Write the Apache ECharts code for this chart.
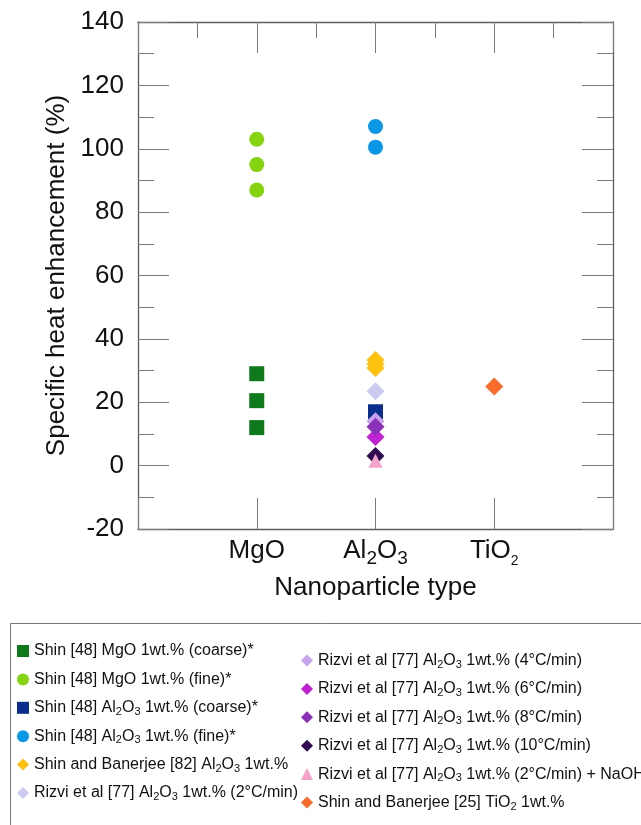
<!DOCTYPE html>
<html>
<head>
<meta charset="utf-8">
<script src="https://cdn.jsdelivr.net/npm/echarts@6/dist/echarts.min.js"></script>
<style>
  html, body { margin: 0; padding: 0; background: #fff; }
  #chart { width: 641px; height: 825px; }
</style>
</head>
<body>
<div id="chart"></div>
<script>
// Nanoparticle categories placed at x = 1, 2, 3 on a 0..4 value axis
const categories = ['MgO', 'Al2O3', 'TiO2'];
const yTicks = { min: -20, max: 140, step: 20 };

// Specific heat enhancement (%) per study
const shinMgOCoarse = [29, 20.5, 12];
const shinMgOFine = [103, 95, 87];
const shinAl2O3Coarse = [17];
const shinAl2O3Fine = [107, 100.5];
const shinBanerjeeAl2O3 = [33.3, 32, 30.8];
const rizvi2 = [23.5];
const rizvi4 = [14];
const rizvi6 = [9];
const rizvi8 = [12.3];
const rizvi10 = [3];
const rizvi2NaOH = [1.5];
const shinBanerjeeTiO2 = [25];

const FONT = 'Liberation Sans, Arial, Helvetica, sans-serif';

function pts(cat, values) {
  const x = categories.indexOf(cat) + 1;
  return values.map(v => [x, v]);
}

const seriesDefs = [
  { name: 'Shin [48] MgO 1wt.% (coarse)*', cat: 'MgO', values: shinMgOCoarse, symbol: 'rect', size: 15, color: '#0f7a1c' },
  { name: 'Shin [48] MgO 1wt.% (fine)*', cat: 'MgO', values: shinMgOFine, symbol: 'circle', size: 15, color: '#86d312' },
  { name: 'Shin [48] Al2O3 1wt.% (coarse)*', cat: 'Al2O3', values: shinAl2O3Coarse, symbol: 'rect', size: 15, color: '#0b2d8e' },
  { name: 'Shin [48] Al2O3 1wt.% (fine)*', cat: 'Al2O3', values: shinAl2O3Fine, symbol: 'circle', size: 15, color: '#0a97e6' },
  { name: 'Shin and Banerjee [82] Al2O3 1wt.%', cat: 'Al2O3', values: shinBanerjeeAl2O3, symbol: 'diamond', size: 18, color: '#fec10d' },
  { name: 'Rizvi et al [77] Al2O3 1wt.% (2°C/min)', cat: 'Al2O3', values: rizvi2, symbol: 'diamond', size: 18, color: '#cbcbf2' },
  { name: 'Rizvi et al [77] Al2O3 1wt.% (4°C/min)', cat: 'Al2O3', values: rizvi4, symbol: 'diamond', size: 18, color: '#c7a2ec' },
  { name: 'Rizvi et al [77] Al2O3 1wt.% (6°C/min)', cat: 'Al2O3', values: rizvi6, symbol: 'diamond', size: 18, color: '#c022d2' },
  { name: 'Rizvi et al [77] Al2O3 1wt.% (8°C/min)', cat: 'Al2O3', values: rizvi8, symbol: 'diamond', size: 18, color: '#8b30b9' },
  { name: 'Rizvi et al [77] Al2O3 1wt.% (10°C/min)', cat: 'Al2O3', values: rizvi10, symbol: 'diamond', size: 18, color: '#300b52' },
  { name: 'Rizvi et al [77] Al2O3 1wt.% (2°C/min) + NaOH', cat: 'Al2O3', values: rizvi2NaOH, symbol: 'triangle', size: 14, color: '#f5a3ca' },
  { name: 'Shin and Banerjee [25] TiO2 1wt.%', cat: 'TiO2', values: shinBanerjeeTiO2, symbol: 'diamond', size: 18, color: '#f86b2b' }
];

const series = seriesDefs.map(d => ({
  name: d.name,
  type: 'scatter',
  xAxisIndex: 0,
  yAxisIndex: 0,
  symbol: d.symbol,
  symbolSize: d.size,
  itemStyle: { color: d.color, opacity: 1 },
  emphasis: { disabled: true },
  data: pts(d.cat, d.values)
}));

// subscript markup for chemical formulas in legend text
function legendText(name) {
  return name.replace('Al2O3', 'Al{s|2}O{s|3}').replace('TiO2', 'TiO{s|2}');
}

const legendBase = {
  orient: 'vertical',
  padding: 0,
  itemWidth: 12,
  itemHeight: 12,
  itemGap: 9.4,
  selectedMode: false,
  formatter: legendText,
  textStyle: {
    fontFamily: FONT,
    fontSize: 16,
    color: '#111',
    lineHeight: 19,
    rich: {
      s: { fontFamily: FONT, fontSize: 11, lineHeight: 11, verticalAlign: 'bottom', color: '#111' }
    }
  }
};

const axisLineStyle = { color: '#5e5e5e', width: 1.3 };
const tickLineStyle = { color: '#7a7a7a', width: 1 };

const option = {
  backgroundColor: '#fff',
  animation: false,
  grid: { left: 138, right: 28, top: 22, bottom: 296, containLabel: false },
  xAxis: [
    {
      type: 'value', position: 'bottom', min: 0, max: 4, interval: 1,
      name: 'Nanoparticle type', nameLocation: 'middle', nameGap: 46,
      nameTextStyle: { fontFamily: FONT, fontSize: 26, color: '#111' },
      axisLine: { show: true, onZero: false, lineStyle: axisLineStyle },
      axisTick: { show: true, inside: true, length: 31, lineStyle: tickLineStyle },
      splitLine: { show: false },
      axisLabel: {
        margin: 4,
        fontFamily: FONT, fontSize: 26, color: '#111', lineHeight: 35,
        formatter: v => {
          if (v === 1) return 'MgO';
          if (v === 2) return 'Al{a|2}O{a|3}';
          if (v === 3) return 'TiO{b|2}';
          return '';
        },
        rich: {
          a: { fontFamily: FONT, fontSize: 19, lineHeight: 19, verticalAlign: 'bottom', color: '#111' },
          b: { fontFamily: FONT, fontSize: 14, lineHeight: 14, verticalAlign: 'bottom', color: '#111' }
        }
      }
    },
    {
      type: 'value', position: 'top', min: 0, max: 4, interval: 1,
      axisLine: { show: true, onZero: false, lineStyle: axisLineStyle },
      axisTick: { show: true, inside: true, length: 31, lineStyle: tickLineStyle },
      minorTick: { show: true, splitNumber: 2, length: 16, lineStyle: tickLineStyle },
      splitLine: { show: false },
      axisLabel: { show: false }
    }
  ],
  yAxis: [
    {
      type: 'value', position: 'left', min: yTicks.min, max: yTicks.max, interval: yTicks.step,
      name: 'Specific heat enhancement (%)', nameLocation: 'middle', nameGap: 68,
      nameTextStyle: { fontFamily: FONT, fontSize: 26, color: '#111' },
      axisLine: { show: true, onZero: false, lineStyle: axisLineStyle },
      axisTick: { show: true, inside: true, length: 31, lineStyle: tickLineStyle },
      minorTick: { show: true, splitNumber: 2, length: 16, lineStyle: tickLineStyle },
      splitLine: { show: false },
      axisLabel: { margin: 14, fontFamily: FONT, fontSize: 26, color: '#111' }
    },
    {
      type: 'value', position: 'right', min: yTicks.min, max: yTicks.max, interval: yTicks.step,
      axisLine: { show: true, onZero: false, lineStyle: axisLineStyle },
      axisTick: { show: true, inside: true, length: 31, lineStyle: tickLineStyle },
      minorTick: { show: true, splitNumber: 2, length: 16, lineStyle: tickLineStyle },
      splitLine: { show: false },
      axisLabel: { show: false }
    }
  ],
  legend: [
    Object.assign({}, legendBase, { left: 17, top: 641.5, data: seriesDefs.slice(0, 6).map(d => d.name) }),
    Object.assign({}, legendBase, { left: 301, top: 651, data: seriesDefs.slice(6).map(d => d.name) })
  ],
  graphic: [
    {
      type: 'rect', silent: true,
      shape: { x: 10.5, y: 623.5, width: 700, height: 400 },
      style: { fill: 'none', stroke: '#777', lineWidth: 1 }
    }
  ],
  series: series
};

const chart = echarts.init(document.getElementById('chart'), null, { renderer: 'canvas' });
chart.setOption(option);
</script>
</body>
</html>
